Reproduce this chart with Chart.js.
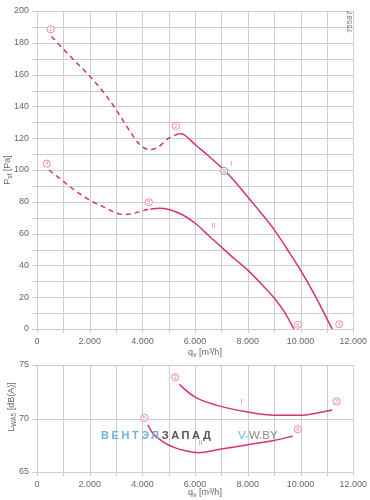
<!DOCTYPE html>
<html><head><meta charset="utf-8">
<script src="https://cdn.jsdelivr.net/npm/chart.js@4/dist/chart.umd.min.js"></script>
<style>
html,body{margin:0;padding:0;background:#fff;}
#wrap{position:relative;width:370px;height:500px;overflow:hidden;font-family:"Liberation Sans",Arial,sans-serif;}
#top{position:absolute;left:0;top:0;width:370px;height:360px;}
#bot{position:absolute;left:0;top:355px;width:370px;height:145px;}
.wm{position:absolute;top:429px;font-size:11px;letter-spacing:2.6px;font-weight:bold;white-space:nowrap;}
.wm2{position:absolute;top:429px;font-size:11.5px;white-space:nowrap;}
</style></head>
<body><div id="wrap">
<div id="top"><canvas id="c1" width="370" height="360"></canvas></div>
<div id="bot"><canvas id="c2" width="370" height="145"></canvas></div>
<div class="wm" style="left:101px;color:#6bb3e6;">ВЕНТЭЛ<span style="color:#555">ЗАПАД</span></div>
<div class="wm2" style="left:238px;color:#6bb3e6;">V-<span style="color:#888">W.BY</span></div>
</div>
<script>
// ---- data ----
const xTickValues = [0,1000,2000,3000,4000,5000,6000,7000,8000,9000,10000,11000,12000];
const xTickLabels = ['0','','2.000','','4.000','','6.000','','8.000','','10.000','','12.000'];
const yTopTickLabels = ['0','20','40','60','80','100','120','140','160','180','200'];
const yBotTickLabels = ['65','70','75'];

const c1DashQ = [550, 1000, 1500, 2000, 2500, 3000, 3500, 3900, 4250, 4600, 5000, 5400];
const c1DashP = [184, 176, 167.5, 159, 149.5, 138, 125, 116, 112.8, 114.5, 120, 123];
const c1SolidQ = [5400, 5600, 6000, 6500, 7100, 7500, 8000, 8500, 9000, 9500, 10000, 10500, 11200];
const c1SolidP = [123, 122, 116, 109, 100, 93, 83, 73, 62.5, 50, 37, 22.5, 0];

const c2DashQ = [450, 800, 1250, 2000, 2500, 3000, 3300, 3700, 4000, 4300];
const c2DashP = [100, 95.5, 89.5, 81, 77, 73, 72, 72.8, 74.3, 75.5];
const c2SolidQ = [4300, 4650, 5000, 5500, 6000, 6500, 7000, 7500, 8000, 8500, 9000, 9400, 9750];
const c2SolidP = [75.5, 76, 75.2, 72, 66.5, 59, 51.5, 44, 37, 28.5, 19.5, 10.5, 0];

const b1Q = [5400, 5600, 6000, 6800, 8000, 9000, 10000, 10600, 11200];
const b1L = [73.2, 72.75, 72.0, 71.25, 70.6, 70.3, 70.3, 70.5, 70.8];
const b2Q = [4200, 4400, 4800, 5200, 5600, 6100, 7000, 8000, 9000, 9700];
const b2L = [69.4, 68.6, 67.8, 67.3, 67.0, 66.8, 67.15, 67.55, 67.95, 68.35];

const topMarkQ = [520, 5270, 11470, 370, 4240, 9900, 7106];
const topMarkP = [188.5, 127.7, 3, 104, 79.7, 2.7, 99.4];
const topMarkTxt = ['1','2','3','4','5','6','9'];
const topMarkGray = [false,false,false,false,false,false,true];
const botMarkQ = [5245, 11370, 4075, 9899];
const botMarkL = [73.85, 71.6, 70.06, 69];
const botMarkTxt = ['2','3','5','6'];

const topCurveLabQ = [7372, 6691];
const topCurveLabP = [104, 65];
const botCurveLabQ = [7755, 6213];
const botCurveLabL = [71.5, 67.75];
const curveLabTxt = ['I','II'];

// ---- helpers ----
const LINE = '#d6317c';
const MARK = '#e97aa8';
const GRID = '#cdcdcd';
const FONT = '"Liberation Sans", Arial, sans-serif';
const pts = (xs, ys) => xs.map((x,i)=>({x:x,y:ys[i]}));

function drawRich(ctx, parts, cx, cy, rot){
  ctx.save();
  ctx.translate(cx, cy);
  if (rot) ctx.rotate(-Math.PI/2);
  let w = 0;
  parts.forEach(p=>{ ctx.font = (p[1]==='n'?'9px ':'6.5px ')+FONT; w += ctx.measureText(p[0]).width; });
  let x = -w/2;
  ctx.fillStyle = '#666';
  ctx.textBaseline = 'middle';
  ctx.textAlign = 'left';
  parts.forEach(p=>{
    ctx.font = (p[1]==='n'?'9px ':'6.5px ')+FONT;
    const dy = p[1]==='sub' ? 2.5 : (p[1]==='sup' ? -3 : 0);
    ctx.fillText(p[0], x, dy);
    x += ctx.measureText(p[0]).width;
  });
  ctx.restore();
}

// grid at every step, drawn through the chart's scales
function gridPlugin(xStep, yStep){
  return {
    id:'fullgrid',
    beforeDatasetsDraw(chart){
      const ctx = chart.ctx, xs = chart.scales.x, ys = chart.scales.y, a = chart.chartArea;
      ctx.save();
      ctx.strokeStyle = GRID; ctx.lineWidth = 1;
      ctx.beginPath();
      for (let v = xs.min; v <= xs.max + 1e-6; v += xStep){
        const p = Math.round(xs.getPixelForValue(v)) + 0.5;
        ctx.moveTo(p, a.top); ctx.lineTo(p, a.bottom + 4);
      }
      for (let v = ys.min; v <= ys.max + 1e-6; v += yStep){
        const p = Math.round(ys.getPixelForValue(v)) + 0.5;
        ctx.moveTo(a.left - 5, p); ctx.lineTo(a.right, p);
      }
      ctx.stroke();
      ctx.restore();
    }
  };
}

function makePlugin(marks, labs, extra){
  return {
    id:'deco',
    afterDatasetsDraw(chart){
      const ctx = chart.ctx, xs = chart.scales.x, ys = chart.scales.y;
      ctx.save();
      marks.q.forEach((q,i)=>{
        const px = xs.getPixelForValue(q), py = ys.getPixelForValue(marks.v[i]);
        const col = marks.gray && marks.gray[i] ? '#888' : MARK;
        ctx.fillStyle = '#fff';
        ctx.strokeStyle = col; ctx.lineWidth = 0.9;
        ctx.beginPath(); ctx.arc(px, py, 3.6, 0, Math.PI*2); ctx.fill(); ctx.stroke();
        ctx.fillStyle = col;
        ctx.font = '5.5px ' + FONT;
        ctx.textAlign = 'center'; ctx.textBaseline = 'middle';
        ctx.fillText(marks.t[i], px, py+0.3);
      });
      labs.q.forEach((q,i)=>{
        const px = xs.getPixelForValue(q), py = ys.getPixelForValue(labs.v[i]);
        ctx.fillStyle = MARK;
        ctx.font = '7px ' + FONT;
        ctx.textAlign = 'center'; ctx.textBaseline = 'middle';
        ctx.fillText(curveLabTxt[i], px, py);
      });
      ctx.restore();
      extra(chart);
    }
  };
}

function baseOptions(yMin, yMax, yStep, yLabels, padTop, xHeight){
  return {
    responsive:false, animation:false, devicePixelRatio:1,
    layout:{padding:{left:0, right:15, top:padTop, bottom:0}},
    plugins:{legend:{display:false}, tooltip:{enabled:false}},
    elements:{point:{radius:0}},
    scales:{
      x:{type:'linear', min:0, max:12000,
        afterFit(s){ s.height = xHeight; },
        ticks:{autoSkip:false, maxTicksLimit:100, stepSize:1000, maxRotation:0, padding:3, color:'#666', font:{family:FONT, size:9},
          callback:function(v){ const k = xTickValues.indexOf(v); return k>=0 ? xTickLabels[k] : ''; }},
        grid:{color:'rgba(0,0,0,0)', lineWidth:1, tickLength:4, drawTicks:true},
        border:{display:false}
      },
      y:{type:'linear', min:yMin, max:yMax,
        afterFit(s){ s.width = 37; },
        ticks:{autoSkip:false, maxTicksLimit:100, stepSize:yStep, padding:3, color:'#666', font:{family:FONT, size:9},
          callback:function(v){ const k = yLabels.indexOf(String(v)); return k>=0 ? yLabels[k] : ''; }},
        grid:{color:'rgba(0,0,0,0)', lineWidth:1, tickLength:5},
        border:{display:false}
      }
    }
  };
}

function ds(data, dashed){
  return {type:'line', data:data, borderColor:LINE, borderWidth:1.5, fill:false, showLine:true,
    pointRadius:0, cubicInterpolationMode:'monotone', borderDash: dashed ? [5,4] : []};
}

// ---- top chart ----
new Chart(document.getElementById('c1'), {
  type:'scatter',
  data:{datasets:[
    ds(pts(c1DashQ,c1DashP), true),
    ds(pts(c1SolidQ,c1SolidP), false),
    ds(pts(c2DashQ,c2DashP), true),
    ds(pts(c2SolidQ,c2SolidP), false)
  ]},
  options: baseOptions(0, 200, 10, yTopTickLabels, 11, 31),
  plugins:[gridPlugin(1000, 10), makePlugin({q:topMarkQ, v:topMarkP, t:topMarkTxt, gray:topMarkGray},
                      {q:topCurveLabQ, v:topCurveLabP},
    function(chart){
      const ctx = chart.ctx;
      drawRich(ctx, [['P','n'],['sf','sub'],[' [Pa]','n']], 8, 170, true);
      drawRich(ctx, [['q','n'],['v','sub'],[' [m³/h]','n']], 205, 353, false);
      ctx.save();
      ctx.translate(350, 22); ctx.rotate(-Math.PI/2);
      ctx.font = '8px ' + FONT; ctx.fillStyle = '#777';
      ctx.textAlign='center'; ctx.textBaseline='middle';
      ctx.fillText('75587', 0, 0);
      ctx.restore();
    })]
});

// ---- bottom chart ----
new Chart(document.getElementById('c2'), {
  type:'scatter',
  data:{datasets:[
    ds(pts(b1Q,b1L), false),
    ds(pts(b2Q,b2L), false)
  ]},
  options: baseOptions(65, 75, 5, yBotTickLabels, 10, 28),
  plugins:[gridPlugin(1000, 5), makePlugin({q:botMarkQ, v:botMarkL, t:botMarkTxt, gray:null},
                      {q:botCurveLabQ, v:botCurveLabL},
    function(chart){
      const ctx = chart.ctx;
      drawRich(ctx, [['L','n'],['WA5','sub'],[' [dB(A)]','n']], 12, 52, true);
      drawRich(ctx, [['q','n'],['v','sub'],[' [m³/h]','n']], 205, 138, false);
    })]
});
</script>
</body></html>
